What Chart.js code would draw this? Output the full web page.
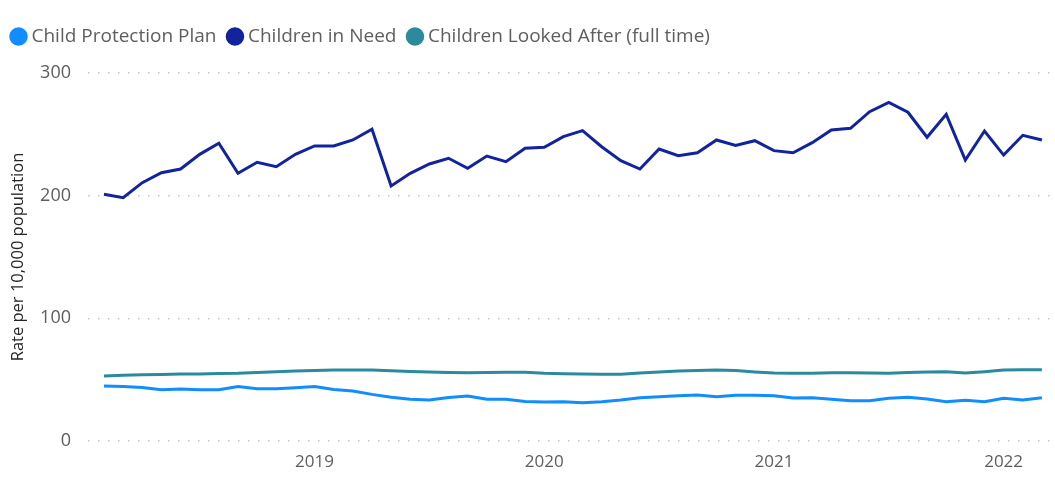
<!DOCTYPE html>
<html>
<head>
<meta charset="utf-8">
<script src="https://cdn.jsdelivr.net/npm/chart.js@4.4.1/dist/chart.umd.min.js"></script>
<style>
  html, body { margin: 0; padding: 0; background: #fff; }
  #wrap { width: 1055px; height: 479px; position: relative; }
</style>
</head>
<body>
<div id="wrap"><canvas id="chart"></canvas></div>
<script>
// monthly figures, Feb 2018 .. Mar 2022
const months = [
  '2018-02','2018-03','2018-04','2018-05','2018-06','2018-07','2018-08','2018-09','2018-10','2018-11','2018-12',
  '2019-01','2019-02','2019-03','2019-04','2019-05','2019-06','2019-07','2019-08','2019-09','2019-10','2019-11','2019-12',
  '2020-01','2020-02','2020-03','2020-04','2020-05','2020-06','2020-07','2020-08','2020-09','2020-10','2020-11','2020-12',
  '2021-01','2021-02','2021-03','2021-04','2021-05','2021-06','2021-07','2021-08','2021-09','2021-10','2021-11','2021-12',
  '2022-01','2022-02','2022-03'
];
const childProtectionPlan = [
  44.8, 44.5, 43.6, 41.8, 42.4, 41.8, 41.8, 44.5, 42.6, 42.6, 43.5,
  44.5, 42.0, 40.8, 38.0, 35.6, 34.0, 33.4, 35.4, 36.6, 34.0, 34.0, 32.2,
  31.8, 32.0, 31.2, 32.0, 33.4, 35.3, 36.1, 36.9, 37.5, 36.1, 37.2, 37.2,
  36.8, 35.0, 35.2, 34.0, 32.9, 32.8, 34.8, 35.6, 34.2, 32.0, 33.2, 32.0,
  34.8, 33.4, 35.3
];
const childrenInNeed = [
  201.1, 198.3, 210.6, 218.7, 221.7, 233.7, 242.7, 218.2, 227.2, 223.6, 233.7,
  240.5, 240.5, 245.4, 254.1, 207.9, 218.2, 225.8, 230.5, 222.3, 232.3, 227.7, 238.6,
  239.4, 248.1, 253.0, 239.9, 228.5, 221.7, 238.0, 232.6, 235.0, 245.4, 241.0, 244.8,
  236.7, 235.0, 243.2, 253.5, 254.9, 268.5, 276.1, 268.0, 247.6, 266.3, 229.1, 252.7,
  233.1, 249.2, 245.4
];
const childrenLookedAfter = [
  53.0, 53.6, 54.0, 54.3, 54.6, 54.6, 55.0, 55.2, 55.8, 56.5, 57.0,
  57.5, 57.9, 57.9, 57.9, 57.2, 56.6, 56.2, 55.8, 55.7, 55.9, 56.0, 56.0,
  55.2, 54.8, 54.6, 54.4, 54.5, 55.5, 56.2, 57.0, 57.5, 57.9, 57.5, 56.3,
  55.4, 55.3, 55.2, 55.6, 55.7, 55.5, 55.2, 55.8, 56.2, 56.5, 55.4, 56.5,
  57.9, 58.0, 58.1
];
const yTicks = [0, 100, 200, 300];

const toPoints = arr => arr.map((v, i) => ({ x: i, y: v }));
const font = '"Segoe UI", "Open Sans", "Noto Sans", sans-serif';

const series = [
  { label: 'Child Protection Plan', data: childProtectionPlan, color: '#118DFF' },
  { label: 'Children in Need', data: childrenInNeed, color: '#12239E' },
  { label: 'Children Looked After (full time)', data: childrenLookedAfter, color: '#2B8A9C' }
];

// keep the legend box a fixed height so the plot starts where it should
const legendHeight = {
  id: 'legendHeight',
  afterInit(chart) {
    const lg = chart.legend;
    const fit = lg.fit.bind(lg);
    lg.fit = function () { fit(); this.height = 61; };
  }
};

new Chart(document.getElementById('chart'), {
  type: 'line',
  data: {
    datasets: series.map(s => ({
      label: s.label,
      data: toPoints(s.data),
      borderColor: s.color,
      backgroundColor: s.color,
      borderWidth: 3,
      pointRadius: 0,
      tension: 0
    }))
  },
  plugins: [legendHeight],
  options: {
    responsive: true,
    maintainAspectRatio: false,
    animation: false,
    layout: { padding: { top: 12, right: 2, left: 0, bottom: 0 } },
    plugins: {
      tooltip: { enabled: false },
      legend: {
        position: 'top',
        align: 'start',
        labels: {
          usePointStyle: true,
          pointStyle: 'circle',
          boxWidth: 7,
          boxHeight: 11,
          padding: 15,
          color: '#605E5C',
          font: { family: font, size: 19 }
        }
      }
    },
    scales: {
      x: {
        type: 'linear',
        min: -0.836,
        max: 49.58,
        grid: { display: false },
        border: { display: false },
        afterBuildTicks: scale => {
          scale.ticks = months
            .map((m, i) => ({ m, i }))
            .filter(o => o.m.endsWith('-01'))
            .map(o => ({ value: o.i }));
        },
        afterFit: scale => { scale.height = 38; },
        ticks: {
          autoSkip: false,
          maxRotation: 0,
          padding: 3,
          color: '#605E5C',
          font: { family: font, size: 17 },
          callback: v => months[v] ? months[v].slice(0, 4) : ''
        }
      },
      y: {
        min: 0,
        max: 300,
        afterBuildTicks: scale => { scale.ticks = yTicks.map(v => ({ value: v })); },
        afterFit: scale => { scale.width = 88; },
        border: { display: false, dash: [1.5, 8.5] },
        grid: {
          drawTicks: false,
          color: '#C8C6C4',
          lineWidth: 1.5
        },
        ticks: {
          padding: 17,
          color: '#605E5C',
          font: { family: font, size: 18 }
        },
        title: {
          display: true,
          text: 'Rate per 10,000 population',
          color: '#252423',
          padding: { top: 8, bottom: 0 },
          font: { family: font, size: 16.5 }
        }
      }
    }
  }
});
</script>
</body>
</html>
